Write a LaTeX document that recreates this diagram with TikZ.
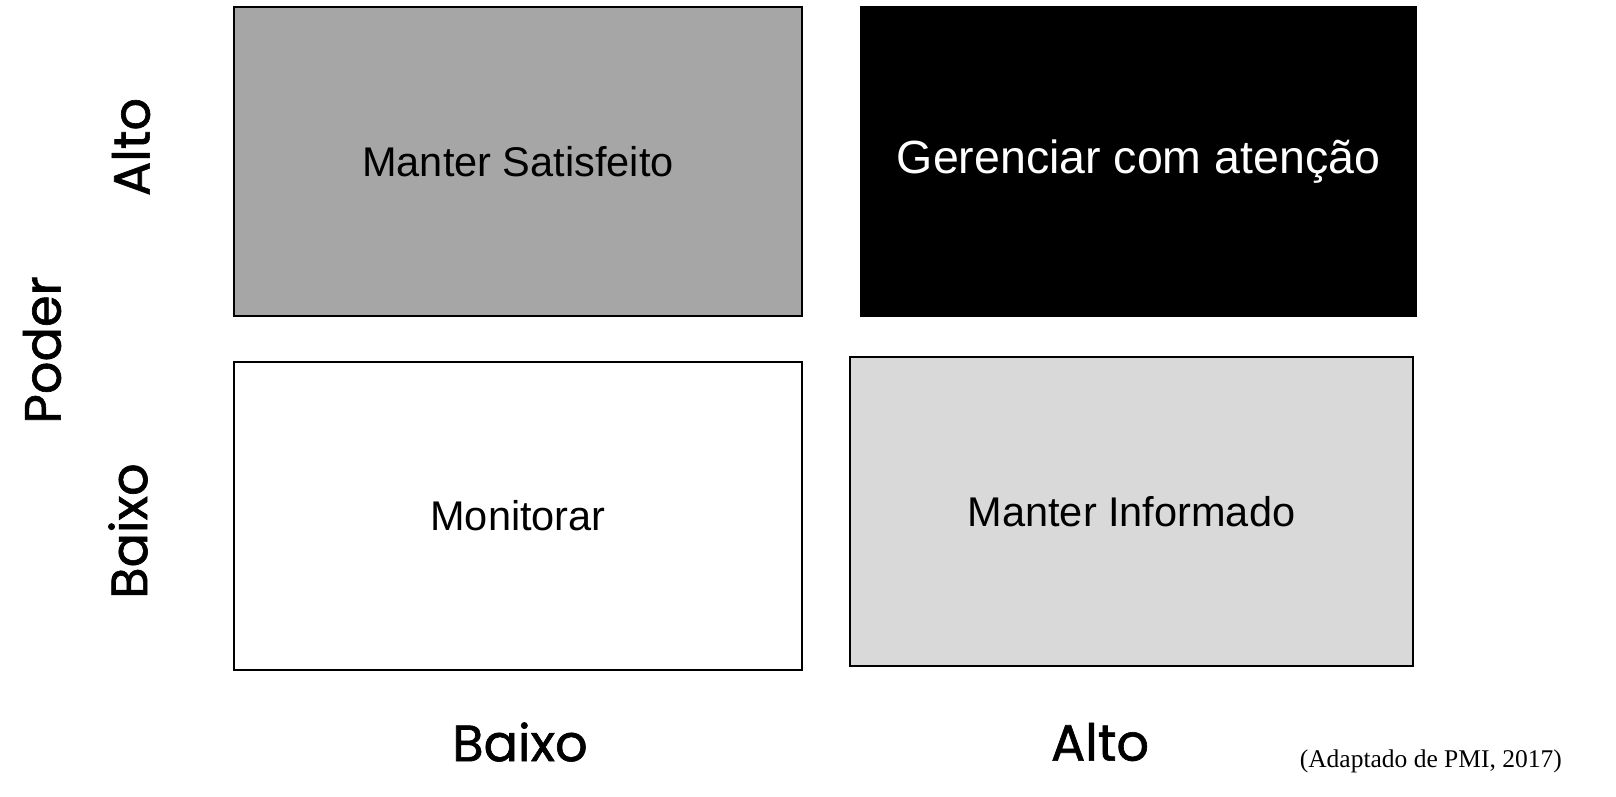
\documentclass[tikz,border=0pt]{standalone}
\usepackage{fontspec}
\setmainfont{Liberation Sans}
\newfontfamily\axisfont[FakeBold=1.2]{Poppins}
\newfontfamily\citefont{Liberation Serif}
\begin{document}
\begin{tikzpicture}[x=1pt,y=-1pt,
  quad/.style={draw=black, line width=1.5pt, inner sep=0pt, outer sep=0pt, align=center, font=\fontsize{41.5}{48}\selectfont},
  axislbl/.style={inner sep=0pt, font=\axisfont\fontsize{51}{58}\selectfont},
]
\useasboundingbox[fill=white] (0,0) rectangle (1616,797);
\node[quad, fill={rgb,255:red,166;green,166;blue,166}, minimum width=568pt, minimum height=309pt] (ms) at (518,161.5) {Manter Satisfeito};
\node[quad, fill=black, text=white, minimum width=555pt, minimum height=309pt, font=\fontsize{46.5}{52}\selectfont] (gca) at (1138.5,161.5) {Gerenciar com atenção};
\node[quad, fill=white, minimum width=568pt, minimum height=308pt] (mon) at (518,516) {Monitorar};
\node[quad, fill={rgb,255:red,217;green,217;blue,217}, minimum width=563pt, minimum height=309pt] (mi) at (1131.5,511.5) {Manter Informado};
\node[axislbl, rotate=90] (yalto) at (131,147) {Alto};
\node[axislbl, rotate=90] (poder) at (42,350) {Poder};
\node[axislbl, rotate=90] (ybaixo) at (128,531) {Baixo};
\node[axislbl] (xbaixo) at (520,742) {Baixo};
\node[axislbl] (xalto) at (1100,742) {Alto};
\node[anchor=base east, inner sep=0pt, font=\citefont\fontsize{25.5}{30}\selectfont] (cite) at (1562,767) {(Adaptado de PMI, 2017)};
\end{tikzpicture}
\end{document}
